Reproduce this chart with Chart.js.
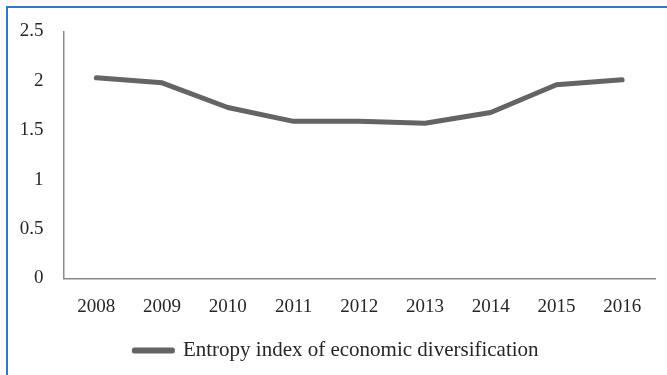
<!DOCTYPE html>
<html>
<head>
<meta charset="utf-8">
<script src="https://cdn.jsdelivr.net/npm/chart.js@4/dist/chart.umd.min.js"></script>
<style>
  html, body { margin: 0; padding: 0; background: #fff; }
  #wrap { position: relative; width: 667px; height: 375px; overflow: hidden; }
  #frame { position: absolute; left: 6px; top: 6px; width: 700px; height: 400px;
           border-left: 2px solid #2f7cc3; border-top: 2px solid #2f7cc3; }
  canvas { position: absolute; left: 0; top: 0; }
</style>
</head>
<body>
<div id="wrap">
  <div id="frame"></div>
  <canvas id="canvas" width="667" height="375"></canvas>
</div>
<script>
var years = ["2008", "2009", "2010", "2011", "2012", "2013", "2014", "2015", "2016"];
var entropy = [2.03, 1.98, 1.73, 1.59, 1.59, 1.57, 1.68, 1.96, 2.01];
var seriesName = "Entropy index of economic diversification";

document.addEventListener("DOMContentLoaded", function () {
  var ctx = document.getElementById("canvas");

  var chart = new Chart(ctx, {
    type: "line",
    data: {
      labels: years,
      datasets: [
        {
          label: seriesName,
          data: entropy,
          borderColor: "#646464",
          backgroundColor: "#646464",
          borderWidth: 5,
          borderCapStyle: "round",
          borderJoinStyle: "round",
          pointRadius: 0,
          pointHoverRadius: 0,
          tension: 0,
          fill: false,
        },
      ],
    },
    options: {
      responsive: false,
      animation: false,
      devicePixelRatio: 1,
      layout: {
        padding: { left: 18, right: 12, top: 30, bottom: 4 },
      },
      plugins: {
        tooltip: { enabled: false },
        legend: {
          position: "bottom",
          labels: {
            boxWidth: 38,
            boxHeight: 1,
            padding: 6,
            color: "#262626",
            font: { family: "'Liberation Serif', 'Times New Roman', serif", size: 21 },
          },
        },
      },
      scales: {
        x: {
          offset: true,
          grid: { display: false, drawTicks: false },
          border: { display: true, color: "#8a8a8a", width: 1.5 },
          ticks: {
            color: "#262626",
            padding: 17,
            font: { family: "'Liberation Serif', 'Times New Roman', serif", size: 19 },
          },
          afterFit: function (scale) {
            scale.height = 55.5;
          },
        },
        y: {
          min: 0,
          max: 2.5,
          grid: { display: false, drawTicks: false },
          border: { display: true, color: "#8a8a8a", width: 1.5 },
          ticks: {
            stepSize: 0.5,
            color: "#262626",
            padding: 20,
            font: { family: "'Liberation Serif', 'Times New Roman', serif", size: 19 },
            callback: function (value) {
              return String(value);
            },
          },
          afterFit: function (scale) {
            scale.width = 45.5;
          },
        },
      },
    },
  });
});
</script>
</body>
</html>
